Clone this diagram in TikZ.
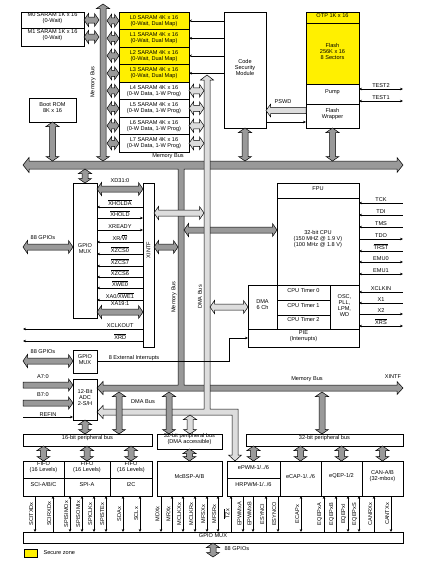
\documentclass[tikz,border=0pt]{standalone}
\usepackage{fontspec}
\setmainfont{Liberation Sans}
\usetikzlibrary{arrows.meta, positioning, calc, fit}
\definecolor{secure}{RGB}{255,240,0}
\colorlet{busdark}{gray!80}
\colorlet{buslight}{gray!27}
\tikzset{
    blk/.style={rectangle, draw, inner sep=0pt, outer sep=0pt, align=center},
    lbox/.style={blk, minimum width=70pt, minimum height=17.5pt},
    pinin/.style={<-}, pinout/.style={->}, pinio/.style={<->},
    lab/.style={above, inner sep=1pt}
}
% fat bus arrows: [fill]{centre}{length}{angle}
\newcommand{\dbar}[4][busdark]{%
  \draw[fill=#1, shift={(#2)}, rotate=#4] ({-#3/2},0) -- ({-#3/2+4.5},6.5) -- ({-#3/2+4.5},3) -- ({#3/2-4.5},3) -- ({#3/2-4.5},6.5) -- ({#3/2},0) -- ({#3/2-4.5},-6.5) -- ({#3/2-4.5},-3) -- ({-#3/2+4.5},-3) -- ({-#3/2+4.5},-6.5) -- cycle;}
\newcommand{\sbar}[4][busdark]{%
  \draw[fill=#1, shift={(#2)}, rotate=#4] ({-#3/2},3) -- ({#3/2-4.5},3) -- ({#3/2-4.5},6.2) -- ({#3/2},0) -- ({#3/2-4.5},-6.2) -- ({#3/2-4.5},-3) -- ({-#3/2},-3) -- cycle;}

\begin{document}
\begin{tikzpicture}[x=1pt, y=-1pt, >={Stealth[length=3pt,width=2.6pt]}, line width=0.5pt, font=\fontsize{5.6}{6}\selectfont]
    \useasboundingbox (0,0) rectangle (427,563);

    % Memory bus and DMA bus
    \draw[fill=busdark] (23,165) -- (29,157.5) -- (29,161) -- (397,161) -- (397,157.5) -- (403,165) -- (397,172.5) -- (397,169) -- (184,169) -- (184,385) -- (397,385) -- (397,381.5) -- (403,388) -- (397,394.5) -- (397,391) -- (103,391) -- (103,394.5) -- (97,388) -- (103,381.5) -- (103,385) -- (178,385) -- (178,169) -- (29,169) -- (29,172.5) -- cycle;
    \dbar{230.5,230}{93}{0}
    \draw[fill=buslight] (207,75) -- (213.5,80) -- (210,80) -- (210,409) -- (238,409) -- (238,455) -- (241.5,455) -- (235,461) -- (228.5,455) -- (232,455) -- (232,415) -- (103,415) -- (103,418.5) -- (97,412) -- (103,405.5) -- (103,409) -- (204,409) -- (204,80) -- (200.5,80) -- cycle;
    \node (mbtop) at (168,156) {Memory Bus};
    \node[rotate=90] (mbleft) at (93,82) {Memory Bus};
    \node[rotate=90] (mbmid) at (174,297) {Memory Bus};
    \node[rotate=90] (dbmid) at (200,297) {DMA Bus};
    \node (dblow) at (143,402) {DMA Bus};
    \node (mblow) at (307,379) {Memory Bus};
    \node (xintfout) at (393,377) {XINTF};

    % Memories
    \node[blk, fit={(21,12) (84,28)}] (m0) {M0 SARAM 1K x 16\\(0-Wait)};
    \node[blk, fit={(21,28) (84,46)}] (m1) {M1 SARAM 1K x 16\\(0-Wait)};
    \node[lbox, fill=secure] (l0) at (154,20.75) {L0 SARAM 4K x 16\\(0-Wait, Dual Map)};
    \foreach \i [count=\j from 0] in {1,2,3}
        \node[lbox, fill=secure, below=0pt of l\j] (l\i) {L\i\ SARAM 4K x 16\\(0-Wait, Dual Map)};
    \foreach \i [count=\j from 3] in {4,...,7}
        \node[lbox, below=0pt of l\j] (l\i) {L\i\ SARAM 4K x 16\\(0-W Data, 1-W Prog)};
    \node[blk, fit={(29,98) (76,122)}] (bootrom) {Boot ROM\\8K x 16};
    \node[blk, fit={(224,12) (266,128)}] (csm) {Code\\Security\\Module};
    \node[blk, fill=secure, fit={(306,12) (359,23)}] (otp) {OTP 1K x 16};
    \node[blk, fill=secure, fit={(306,23) (359,84)}] (flash) {Flash\\256K x 16\\8 Sectors};
    \node[blk, fit={(306,84) (359,104)}] (pump) {Pump};
    \node[blk, fit={(306,104) (359,128)}] (wrapper) {Flash\\Wrapper};

    \dbar{103,82.5}{157}{90}
    \foreach \n in {m0,m1} {\dbar{[xshift=7.5pt]\n.east}{15}{0}}
    \foreach \i in {0,...,7} {\dbar{[xshift=-6pt]l\i.west}{12}{0}}
    \foreach \i in {4,...,7} {\dbar[buslight]{[xshift=7.5pt]l\i.east}{15}{0}}
    \dbar{[yshift=-19.5pt]bootrom.south}{39}{90}
    \dbar{[yshift=-16.5pt]csm.south}{33}{90}
    \dbar{[yshift=-16.5pt]wrapper.south}{33}{90}
    \sbar[buslight]{286,110.5}{40}{180}
    \node (pswdlabel) at (283,102) {PSWD};
    \foreach \i in {0,...,3}
        \draw[->] (csm.west |- l\i.east) -- (l\i.east);
    \draw[->] (csm.east |- 0,122) -- (wrapper.west |- 0,122);
    \draw[<->] (pump.east |- 0,89) -- ++(44,0) node[midway, lab] {TEST2};
    \draw[<->] (pump.east |- 0,101) -- ++(44,0) node[midway, lab] {TEST1};

    % CPU
    \node[blk, fit={(277,183) (359,198)}] (fpu) {FPU};
    \node[blk, fit={(277,198) (359,285)}] (cpu) {32-bit CPU\\(150 MHZ @ 1.9 V)\\(100 MHz @ 1.8 V)};
    \node[blk, fit={(248,285) (277,329)}] (dma) {DMA\\6 Ch};
    \node[blk, fit={(277,285) (330,300)}] (timer0) {CPU Timer 0};
    \node[blk, fit={(277,300) (330,315)}] (timer1) {CPU Timer 1};
    \node[blk, fit={(277,315) (330,329)}] (timer2) {CPU Timer 2};
    \node[blk, fit={(330,285) (359,329)}] (osc) {OSC,\\PLL,\\LPM,\\WD};
    \node[blk, fit={(248,329) (359,347)}] (pie) {PIE\\(Interrupts)};
    \dbar[buslight]{229,307}{38}{0}
    \foreach \y/\t/\d in {203/TCK/pinin, 215/TDI/pinin, 227/TMS/pinin, 239/TDO/pinout, 251/{$\overline{\mbox{TRST}}$}/pinin, 262/EMU0/pinio, 274/EMU1/pinio, 292/XCLKIN/pinin, 303/X1/pinin, 314/X2/pinout, 326/{$\overline{\mbox{XRS}}$}/pinio}
        \draw[\d] (cpu.east |- 0,\y) -- ++(44,0) node[midway, lab] {\t};

    % External interface
    \node[blk, fit={(73,183) (97,318)}] (gpiomux) {GPIO\\MUX};
    \node[blk, fit={(143,183) (154,347)}] (xintf) {};
    \node[rotate=90] (xintflabel) at (148.5,250) {XINTF};
    \node[blk, fit={(73,350) (97,373)}] (gpiomux2) {GPIO\\MUX};
    \node[blk, fit={(73,379) (97,420)}] (adc) {12-Bit\\ADC\\2-S/H};
    \dbar{[yshift=7pt]gpiomux.north}{14}{90}
    \dbar{120,189}{46}{0}
    \node (xdlabel) at (120,181) {XD31:0};
    \dbar{120,312}{46}{0}
    \node (xalabel) at (120,304) {XA19:1};
    \dbar[buslight]{179,213}{50}{0}
    \dbar{166,247}{24}{0}
    \foreach \y/\t/\d in {207/{$\overline{\mbox{XHOLDA}}$}/pinin, 218/{$\overline{\mbox{XHOLD}}$}/pinout, 230/XREADY/pinout, 242/{XR/$\overline{\mbox{W}}$}/pinin, 254/{$\overline{\mbox{XZCS0}}$}/pinin, 266/{$\overline{\mbox{XZCS7}}$}/pinin, 277/{$\overline{\mbox{XZCS6}}$}/pinin, 288/{$\overline{\mbox{XWE0}}$}/pinin, 300/{XA0/$\overline{\mbox{XWE1}}$}/pinin}
        \draw[\d] (gpiomux.east |- 0,\y) -- (xintf.west |- 0,\y) node[midway, lab] {\t};
    \draw[->] (xintf.west |- 0,329) -- ++(-120,0) node[pos=0.19, lab] {XCLKOUT};
    \draw[->] (xintf.west |- 0,341) -- ++(-120,0) node[pos=0.19, lab] {$\overline{\mbox{XRD}}$};
    \dbar{48,247}{50}{0}
    \node (gpioalabel) at (43,238) {88 GPIOs};
    \dbar{48,361}{50}{0}
    \node (gpioblabel) at (43,352) {88 GPIOs};
    \sbar{48,385}{50}{0}
    \node (ainlabel) at (43,377) {A7:0};
    \sbar{48,403}{50}{0}
    \node (binlabel) at (43,395) {B7:0};
    \draw[->] (23,417) -- (adc.west |- 0,417) node[midway, above, inner sep=0.5pt] {REFIN};
    \draw[->] (gpiomux2.east) -| node[pos=0.04, anchor=south west, inner sep=1pt] {8 External Interrupts} ([xshift=-19pt]pie.west) -- (pie.west);

    % Peripherals
    \node[blk, fit={(23,434) (152,446)}] (bus16) {16-bit peripheral bus};
    \node[blk, fit={(157,434) (222,449)}] (bus32d) {32-bit peripheral bus\\(DMA accessible)};
    \node[blk, fit={(246,434) (403,446)}] (bus32) {32-bit peripheral bus};
    \node[blk, fit={(23,461) (64,478)}] (fifo1) {FIFO\\(16 Levels)};
    \node[blk, fit={(64,461) (110,478)}] (fifo2) {FIFO\\(16 Levels)};
    \node[blk, fit={(110,461) (152,478)}] (fifo3) {FIFO\\(16 Levels)};
    \node[blk, fit={(23,478) (64,496)}] (sci) {SCI-A/B/C};
    \node[blk, fit={(64,478) (110,496)}] (spi) {SPI-A};
    \node[blk, fit={(110,478) (152,496)}] (i2c) {I2C};
    \node[blk, fit={(157,461) (222,496)}] (mcbsp) {McBSP-A/B};
    \node[blk, fit={(227,461) (280,478)}] (epwm) {ePWM-1/../6};
    \node[blk, fit={(227,478) (280,496)}] (hrpwm) {HRPWM-1/../6};
    \node[blk, fit={(280,461) (321,496)}] (ecap) {eCAP-1/../6};
    \node[blk, fit={(321,461) (362,496)}] (eqep) {eQEP-1/2};
    \node[blk, fit={(362,461) (403,496)}] (can) {CAN-A/B\\(32-mbox)};
    \node[blk, fit={(23,532) (403,543)}] (gpiobar) {GPIO MUX};

    \dbar{85,427}{14}{90}
    \dbar{119,413}{42}{90}
    \dbar{169,413}{42}{90}
    \dbar[buslight]{190,424.5}{19}{90}
    \dbar{322,413}{42}{90}
    \foreach \n in {fifo1,fifo2,fifo3,epwm,ecap,eqep,can} {\dbar{[yshift=7.5pt]\n.north}{15}{90}}
    \dbar{[yshift=6pt]mcbsp.north}{12}{90}

    % Pins
    \foreach \x/\t/\d in {35/SCITXDx/pinout, 53/SCIRXDx/pinin, 70/SPISIMOx/pinio, 82/SPISOMIx/pinio, 94/SPICLKx/pinio, 106/SPISTEx/pinio, 123/SDAx/pinio, 140/SCLx/pinio, 161/MDXx/pinout, 172/MRXx/pinin, 183/MCLKXx/pinio, 195/MCLKRx/pinio, 207/MFSXx/pinio, 218/MFSRx/pinio, 231/{$\overline{\mbox{TZx}}$}/pinin, 243/EPWMxA/pinout, 253/EPWMxB/pinout, 266/ESYNCI/pinin, 278/ESYNCO/pinout, 301/ECAPx/pinio, 324/EQEPxA/pinin, 336/EQEPxB/pinin, 348/EQEPxI/pinio, 359/EQEPxS/pinio, 374/CANRXx/pinin, 391/CANTXx/pinout}
        \draw[\d] (\x,496) -- (gpiobar.north -| \x,0) node[midway, rotate=90, anchor=south, inner sep=1.5pt] {\t};
    \dbar{[yshift=-7pt]gpiobar.south}{14}{90}
    \node[anchor=west] (gpiooutlabel) at (221,549) {88 GPIOs};

    % Legend
    \node[blk, fill=secure, fit={(24,549) (37,557)}] (legend) {};
    \node[right=3pt of legend] (legendlabel) {Secure zone};
\end{tikzpicture}
\end{document}
